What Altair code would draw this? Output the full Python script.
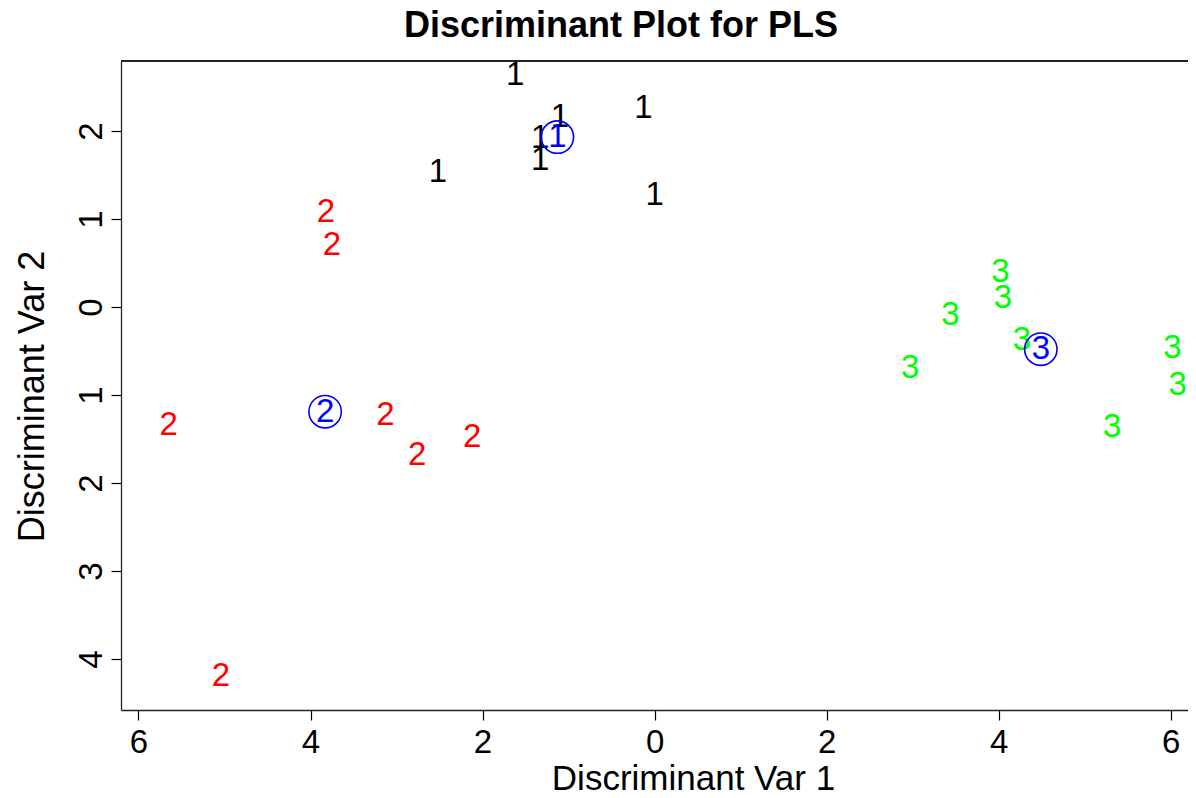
import altair as alt
import pandas as pd

# Group 1 (black)
g1_x = [-1.62, -1.10, -0.13, -1.33, -1.33, -2.52, 0.00]
g1_y = [2.64, 2.16, 2.26, 1.92, 1.67, 1.53, 1.27]
# Group 2 (red)
g2_x = [-3.82, -3.75, -5.65, -3.13, -2.76, -2.12, -5.04]
g2_y = [1.08, 0.70, -1.34, -1.23, -1.68, -1.48, -4.19]
# Group 3 (green)
g3_x = [4.02, 4.05, 3.44, 4.27, 2.97, 6.02, 6.08, 5.32]
g3_y = [0.40, 0.10, -0.09, -0.38, -0.69, -0.47, -0.89, -1.36]
# Group centroids (blue)
cen_x = [-1.13, -3.83, 4.49]
cen_y = [1.93, -1.19, -0.48]
cen_lab = ["1", "2", "3"]

groups = ["1", "2", "3"]
colors = ["#000000", "#FF0000", "#00FF00"]
title_text = ["Discriminant Plot for PLS"]

rows = []
for g, xs, ys in zip(groups, [g1_x, g2_x, g3_x], [g1_y, g2_y, g3_y]):
    for a, b in zip(xs, ys):
        rows.append({"x": a, "y": b, "g": g})
pts = pd.DataFrame(rows)
cen = pd.DataFrame({"x": cen_x, "y": cen_y, "g": cen_lab})
ttl = pd.DataFrame({"t": title_text})

FONT = "Liberation Sans"
xticks = [-6, -4, -2, 0, 2, 4, 6]
yticks = [-4, -3, -2, -1, 0, 1, 2]

W, H = 1067, 649

xscale = alt.Scale(domain=[-6.203, 6.201], nice=False, zero=False)
yscale = alt.Scale(domain=[-4.58, 2.795], nice=False, zero=False)

xaxis = alt.Axis(
    values=xticks, labelExpr="format(abs(datum.value), 'd')",
    grid=False, tickSize=10, tickColor="#000000", domainColor="#222222",
    domainWidth=1.3, tickWidth=1.2, labelFont=FONT, labelFontSize=33,
    labelColor="#000000", labelPadding=6, labelFlush=False,
    title="Discriminant Var 1", titleFont=FONT, titleFontSize=35,
    titleFontWeight="normal", titleColor="#000000",
    titleX=572, titleY=79, titleBaseline="alphabetic", titleAnchor="middle",
)
yaxis = alt.Axis(
    values=yticks, labelExpr="format(abs(datum.value), 'd')",
    grid=False, tickSize=10, tickColor="#000000", domainColor="#222222",
    domainWidth=1.3, tickWidth=1.2, labelFont=FONT, labelFontSize=33,
    labelColor="#000000", labelAngle=270, labelAlign="center",
    labelBaseline="alphabetic", labelPadding=10, labelFlush=False,
    title="Discriminant Var 2", titleFont=FONT, titleFontSize=36,
    titleFontWeight="normal", titleColor="#000000",
    titleX=-78, titleY=335, titleBaseline="alphabetic", titleAngle=270,
    titleAnchor="middle",
)

txt = alt.Chart(pts).mark_text(font=FONT, fontSize=33, baseline="middle", align="center").encode(
    x=alt.X("x:Q", scale=xscale, axis=xaxis),
    y=alt.Y("y:Q", scale=yscale, axis=yaxis),
    color=alt.Color("g:N", scale=alt.Scale(domain=groups, range=colors), legend=None),
    text="g:N",
)

# top border of the plot box
topline = alt.Chart(cen).mark_rule(color="#222222", strokeWidth=1.3).encode(
    x=alt.value(0), x2=alt.value(W), y=alt.value(0)
)

circ = alt.Chart(cen).mark_point(shape="circle", size=1050, filled=False,
                                 color="#0000FF", strokeWidth=1.6, opacity=1).encode(
    x=alt.X("x:Q", scale=xscale),
    y=alt.Y("y:Q", scale=yscale),
)
ctxt = alt.Chart(cen).mark_text(font=FONT, fontSize=33, baseline="middle",
                                align="center", color="#0000FF").encode(
    x=alt.X("x:Q", scale=xscale),
    y=alt.Y("y:Q", scale=yscale),
    text="g:N",
)

# main title, drawn above the plot box
title_mark = alt.Chart(ttl).mark_text(font=FONT, fontSize=36, fontWeight="bold",
                                      color="#000000", align="center",
                                      baseline="alphabetic").encode(
    x=alt.value(500), y=alt.value(-24), text="t:N"
)

chart = alt.layer(txt, circ, ctxt, topline, title_mark).properties(
    width=W, height=H,
    autosize=alt.AutoSizeParams(type="none"),
    padding={"left": 113, "top": 53, "right": 0, "bottom": 80},
).configure_view(stroke=None)

chart.save("out.html", embed_options={"renderer": "svg", "actions": False})
